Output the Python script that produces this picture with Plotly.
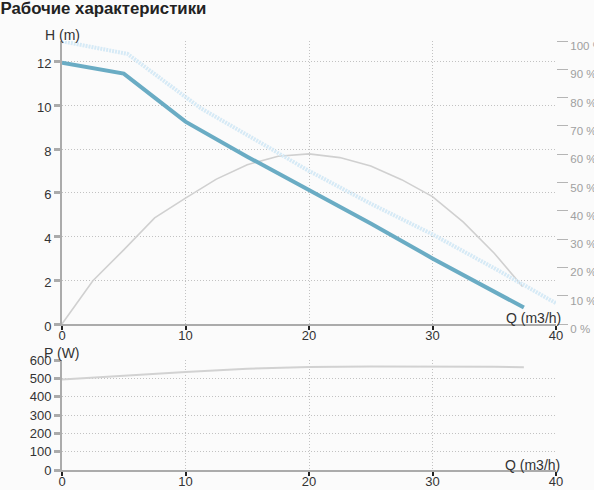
import plotly.graph_objects as go

# ---------------- data ----------------
q_head = [0, 5, 7.5, 10, 15, 20, 25, 30, 35, 37.4]
head_m = [11.95, 11.45, 10.35, 9.25, 7.65, 6.15, 4.6, 3.0, 1.5, 0.75]

q_max = [0, 5.3, 11.2, 15, 20, 25, 30, 35, 40]
head_max_m = [12.93, 12.35, 9.88, 8.62, 7.0, 5.5, 4.1, 2.55, 0.95]

q_eff = [0, 2.5, 5, 7.5, 10, 12.5, 15, 17.5, 20, 22.5, 25, 27.5, 30, 32.5, 35, 37.3]
eff_pct = [0, 15.3, 26.2, 37.5, 44.5, 51.2, 56.3, 59.3, 60.1, 58.8, 55.8, 51.0, 45.0, 36.0, 25.0, 13.2]

q_pow = [0, 5, 10, 15, 20, 25, 30, 35, 37.4]
power_w = [493, 515, 535, 552, 562, 565, 566, 563, 560]

q_ticks = [0, 10, 20, 30, 40]
h_ticks = [0, 2, 4, 6, 8, 10, 12]
pct_ticks = [0, 10, 20, 30, 40, 50, 60, 70, 80, 90, 100]
pct_labels = [f"{v} %" for v in pct_ticks]
p_ticks = [0, 100, 200, 300, 400, 500, 600]

title_text = "Рабочие характеристики"
h_label = "H (m)"
q_label = "Q (m3/h)"
p_label = "P (W)"

# ---------------- layout geometry ----------------
W, H = 594, 490
ML, MR, MT, MB = 62, 38, 41, 20
PW = W - ML - MR
PH = H - MT - MB


def px_x(px):
    return (px - ML) / PW


def px_y(py):
    return (H - MB - py) / PH


top_dom = [px_y(324), 1.0]
bot_dom = [0.0, px_y(360)]

FONT = "Liberation Sans, Arial, sans-serif"
AXIS_GRAY = "#ababab"
GRID = dict(showgrid=True, gridcolor="#c2c2c2", gridwidth=1, griddash="1px,2px")

fig = go.Figure()

# efficiency (right axis %)
fig.add_trace(go.Scatter(x=q_eff, y=eff_pct, xaxis="x", yaxis="y",
                         mode="lines", line=dict(color="#d0d0d0", width=1.6),
                         hoverinfo="skip", showlegend=False))
# max head curve (dotted light blue)
fig.add_trace(go.Scatter(x=q_max, y=head_max_m, xaxis="x", yaxis="y2",
                         mode="lines", line=dict(color="#d6eaf6", width=4, dash="2px,1px"),
                         hoverinfo="skip", showlegend=False))
# head curve
fig.add_trace(go.Scatter(x=q_head, y=head_m, xaxis="x", yaxis="y2",
                         mode="lines", line=dict(color="#6aacc4", width=4),
                         hoverinfo="skip", showlegend=False))
# power
fig.add_trace(go.Scatter(x=q_pow, y=power_w, xaxis="x2", yaxis="y4",
                         mode="lines", line=dict(color="#d2d2d2", width=2),
                         hoverinfo="skip", showlegend=False))

xcommon = dict(range=[0, 40], tickvals=q_ticks, ticktext=[str(v) for v in q_ticks],
               showline=True, linecolor=AXIS_GRAY, linewidth=2,
               ticks="outside", ticklen=4, tickwidth=2, tickcolor="#222",
               tickfont=dict(family=FONT, size=13, color="#333"),
               ticklabelstandoff=-6,
               zeroline=False, automargin=False, **GRID)
x_inside = dict(range=[0, 40], tickvals=q_ticks, showticklabels=False,
                ticks="inside", ticklen=4, tickwidth=2, tickcolor="#222",
                showline=False, showgrid=False, zeroline=False, automargin=False)

fig.update_layout(
    width=W, height=H,
    margin=dict(l=ML, r=MR, t=MT, b=MB, autoexpand=False),
    paper_bgcolor="#fbfbfb", plot_bgcolor="#fbfbfb",
    font=dict(family=FONT, size=13, color="#333"),
    title=dict(text=f"<b>{title_text}</b>", x=0.5 / W, xref="container", xanchor="left",
               y=1 - 8 / H, yref="container", yanchor="middle",
               font=dict(family=FONT, size=16.8, color="#222")),
    # top plot
    xaxis=dict(domain=[0, 1], anchor="y", **xcommon),
    yaxis=dict(domain=top_dom, anchor="x", side="right", range=[0, 100],
               tickvals=pct_ticks, ticktext=pct_labels,
               ticks="outside", ticklen=11, tickwidth=1, tickcolor="#b5b5b5",
               tickfont=dict(family=FONT, size=11.5, color="#a0a0a0"),
               ticklabelshift=5, automargin=False,
               showline=False, showgrid=False, zeroline=False),
    yaxis2=dict(overlaying="y", anchor="x", side="left", range=[0, 12.94],
                tickvals=h_ticks, ticktext=[str(v) for v in h_ticks],
                showline=True, linecolor=AXIS_GRAY, linewidth=2,
                ticks="outside", ticklen=6, tickwidth=3, tickcolor=AXIS_GRAY,
                tickfont=dict(family=FONT, size=13, color="#333"),
                ticklabelshift=2, automargin=False,
                zeroline=False, **GRID),
    yaxis3=dict(overlaying="y", anchor="x", side="left", range=[0, 12.94],
                tickvals=h_ticks, showticklabels=False,
                ticks="inside", ticklen=6, tickwidth=3, tickcolor=AXIS_GRAY,
                showline=False, showgrid=False, zeroline=False, automargin=False),
    xaxis3=dict(overlaying="x", anchor="y", side="bottom", **x_inside),
    # bottom plot
    xaxis2=dict(domain=[0, 1], anchor="y4", **xcommon),
    yaxis4=dict(domain=bot_dom, anchor="x2", side="left", range=[0, 600],
                tickvals=p_ticks, ticktext=[str(v) for v in p_ticks],
                showline=True, linecolor=AXIS_GRAY, linewidth=2,
                ticks="outside", ticklen=6, tickwidth=3, tickcolor=AXIS_GRAY,
                tickfont=dict(family=FONT, size=13, color="#333"),
                zeroline=False, automargin=False, **GRID),
    yaxis5=dict(overlaying="y4", anchor="x2", side="left", range=[0, 600],
                tickvals=p_ticks, showticklabels=False,
                ticks="inside", ticklen=6, tickwidth=3, tickcolor=AXIS_GRAY,
                showline=False, showgrid=False, zeroline=False, automargin=False),
    xaxis4=dict(overlaying="x2", anchor="y4", side="bottom", **x_inside),
)

ann_font = dict(family=FONT, size=14, color="#333")
for text, cx, cy in [(h_label, 62.5, 35), (q_label, 533, 317.5),
                     (p_label, 62, 353), (q_label, 532.5, 465)]:
    fig.add_annotation(text=text, xref="paper", yref="paper",
                       x=px_x(cx), y=px_y(cy), xanchor="center", yanchor="middle",
                       showarrow=False, font=ann_font)

fig.write_html(
    "out.html",
    config={"displayModeBar": False},
    post_script="document.body.style.margin='0';document.body.style.background='#fbfbfb';",
)
